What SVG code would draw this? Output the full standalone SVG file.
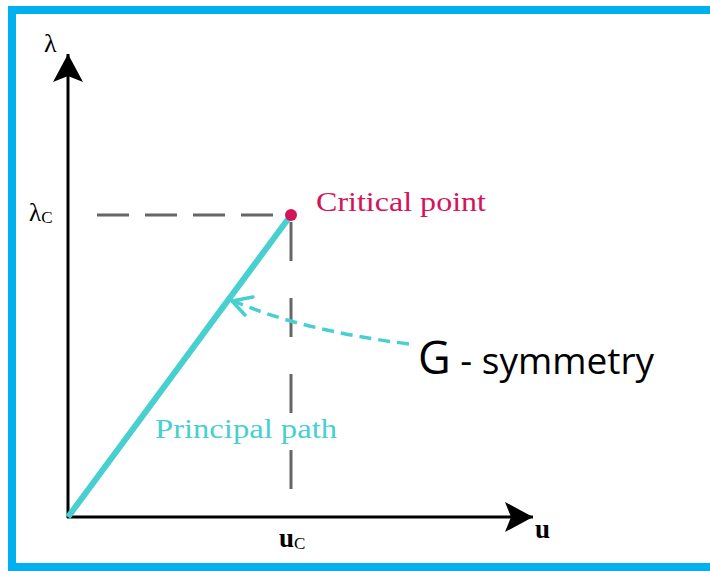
<svg xmlns="http://www.w3.org/2000/svg" width="710" height="571" viewBox="0 0 710 571">
<style>
.ax{stroke:#000;stroke-width:3;fill:none}
.dash{stroke:#666;stroke-width:3;fill:none}
.serif{font-family:"Liberation Serif","DejaVu Serif",serif}
</style>
<defs>
<marker id="stealth" viewBox="0 0 30 30" refX="28" refY="15" markerWidth="30" markerHeight="30" markerUnits="userSpaceOnUse" orient="auto">
<path d="M28,15 L0,0 L6,15 L0,30 Z" fill="#000"/>
</marker>
</defs>
<rect x="12" y="10" width="720" height="557" fill="#fff" stroke="#00b0f0" stroke-width="8"/>
<g id="connectors">
<line class="ax" x1="68" y1="518" x2="68" y2="54" marker-end="url(#stealth)"/>
<line class="ax" x1="67" y1="517" x2="533" y2="517" marker-end="url(#stealth)"/>
<line class="dash" x1="97" y1="215" x2="291" y2="215" stroke-dasharray="32,16"/>
<line class="dash" x1="291" y1="222" x2="291" y2="517" stroke-dasharray="39,37"/>
<line x1="68" y1="517" x2="291" y2="215" stroke="#48cfcf" stroke-width="6"/>
<path d="M409,344 Q300,330 234,301" fill="none" stroke="#48cfcf" stroke-width="3.5" stroke-dasharray="12,7"/>
<path d="M253,297 L232,301 L245,315" fill="none" stroke="#48cfcf" stroke-width="3.5" stroke-linecap="round" stroke-linejoin="round"/>
</g>
<g id="critical-point">
<circle cx="291" cy="215" r="6" fill="#d4145a"/>
<text class="serif" x="316" y="211" font-size="28" fill="#d4145a" textLength="170" lengthAdjust="spacingAndGlyphs">Critical point</text>
</g>
<g id="principal-path">
<text class="serif" x="155" y="438" font-size="28" fill="#48cfcf" textLength="182" lengthAdjust="spacingAndGlyphs">Principal path</text>
</g>
<g id="g-symmetry">
<text x="418" y="374" font-family="'Open Sans','Liberation Sans',sans-serif" fill="#000"><tspan font-size="45">G</tspan><tspan font-size="37"> - symmetry</tspan></text>
</g>
<g id="labels" class="serif">
<text x="44" y="52" font-size="26">λ</text>
<text x="29" y="221" font-size="25">λ<tspan font-size="17" dy="2">C</tspan></text>
<text x="279" y="547" font-size="27" font-weight="bold">u<tspan font-size="17" font-weight="normal" dy="2">C</tspan></text>
<text x="535" y="538" font-size="27" font-weight="bold">u</text>
</g>
</svg>
